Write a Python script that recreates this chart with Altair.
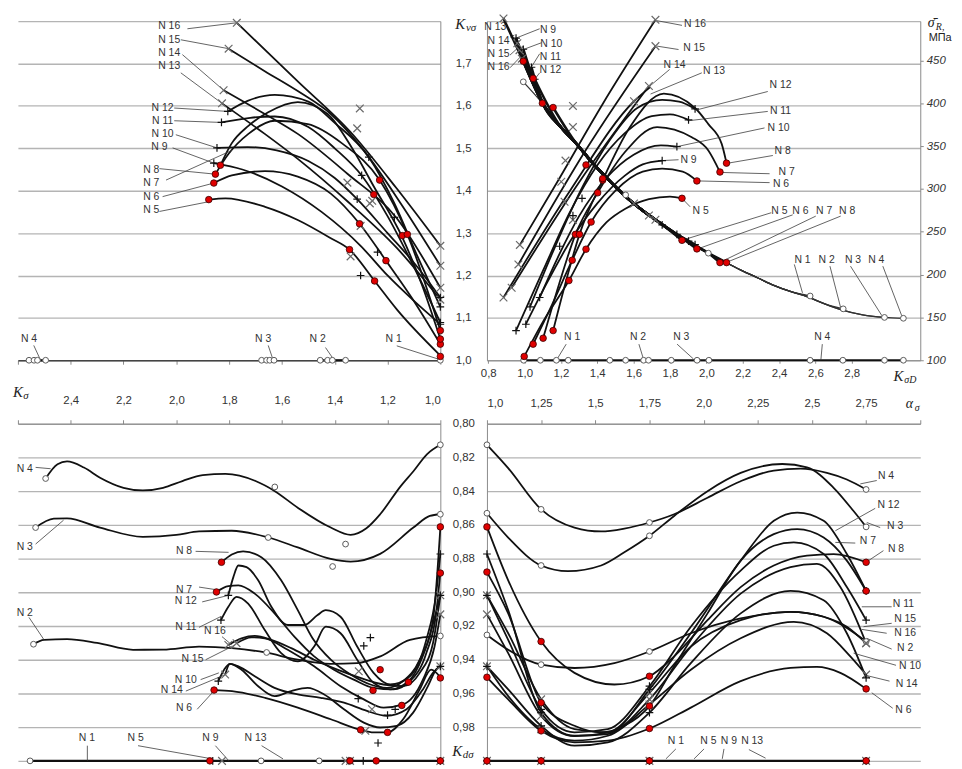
import altair as alt
import pandas as pd

SANS = "Liberation Sans"
SERIF = "Liberation Serif"
INK = "#111111"
TXT = "#333333"
GRID = "#b4b4b4"
AXC = "#8a8a8a"

# ======================= TOP-LEFT : K_vσ vs K_σ =======================
TL_N5 = [(1.877, 1.379), (1.814, 1.382), (1.664, 1.362), (1.540, 1.331), (1.415, 1.288), (1.344, 1.261), (1.249, 1.187), (1.165, 1.120), (1.0, 1.011)]
TL_N6 = [(1.858, 1.418), (1.790, 1.436), (1.664, 1.446), (1.540, 1.433), (1.415, 1.393), (1.306, 1.322), (1.206, 1.235), (1.109, 1.148), (1.0, 1.038)]
TL_N7 = [(1.833, 1.460), (1.791, 1.511), (1.727, 1.553), (1.652, 1.585), (1.540, 1.609), (1.427, 1.581), (1.334, 1.500), (1.252, 1.410), (1.144, 1.290), (1.071, 1.180), (1.0, 1.050)]
TL_N8 = [(1.852, 1.439), (1.802, 1.487), (1.727, 1.534), (1.627, 1.565), (1.502, 1.557), (1.371, 1.511), (1.230, 1.425), (1.125, 1.297), (1.0, 1.070)]
TL_N9 = [(1.858, 1.465), (1.750, 1.450), (1.600, 1.410), (1.450, 1.350), (1.302, 1.270), (1.200, 1.200), (1.100, 1.140), (1.0, 1.085)]
TL_N10 = [(1.846, 1.501), (1.730, 1.503), (1.620, 1.495), (1.500, 1.470), (1.400, 1.430), (1.315, 1.380), (1.200, 1.300), (1.100, 1.230), (1.0, 1.148)]
TL_N11 = [(1.829, 1.561), (1.720, 1.572), (1.627, 1.575), (1.500, 1.550), (1.400, 1.500), (1.298, 1.436), (1.200, 1.340), (1.100, 1.220), (1.0, 1.089)]
TL_N12 = [(1.805, 1.587), (1.730, 1.612), (1.627, 1.626), (1.500, 1.610), (1.400, 1.560), (1.271, 1.479), (1.174, 1.370), (1.090, 1.250), (1.0, 1.126)]
TL_N13 = [(1.827, 1.606), (1.665, 1.534), (1.540, 1.475), (1.352, 1.375), (1.165, 1.265), (1.0, 1.143)]
TL_N14 = [(1.821, 1.637), (1.665, 1.581), (1.540, 1.534), (1.352, 1.440), (1.165, 1.335), (1.0, 1.171)]
TL_N15 = [(1.802, 1.735), (1.665, 1.682), (1.540, 1.635), (1.415, 1.581), (1.290, 1.495), (1.150, 1.370), (1.0, 1.223)]
TL_N16 = [(1.771, 1.796), (1.540, 1.658), (1.341, 1.539), (1.165, 1.405), (1.0, 1.270)]
TL_BASE_N4 = [(2.558, 1.0), (2.495, 1.0)]
TL_BASE_N3 = [(1.677, 1.0), (1.630, 1.0)]
TL_BASE_N2 = [(1.455, 1.0), (1.359, 1.0)]

TL_RED = [(1.877, 1.379), (1.858, 1.418), (1.833, 1.460), (1.852, 1.439),
          (1.344, 1.261), (1.249, 1.187), (1.306, 1.322), (1.206, 1.235), (1.252, 1.391), (1.144, 1.294), (1.230, 1.425), (1.125, 1.297),
          (1.0, 1.009), (1.0, 1.038), (1.0, 1.050), (1.0, 1.070)]
TL_PLUS = [(1.858, 1.465), (1.846, 1.501), (1.829, 1.561), (1.805, 1.587),
           (1.271, 1.479), (1.298, 1.436), (1.315, 1.380), (1.174, 1.337), (1.238, 1.255), (1.302, 1.200),
           (1.0, 1.085), (1.0, 1.089), (1.0, 1.126), (1.0, 1.148)]
TL_CROSS = [(1.827, 1.606), (1.821, 1.637), (1.802, 1.735), (1.771, 1.796),
            (1.305, 1.594), (1.315, 1.547), (1.352, 1.419), (1.267, 1.370), (1.258, 1.376), (1.302, 1.317), (1.340, 1.245),
            (1.0, 1.143), (1.0, 1.171), (1.0, 1.223), (1.0, 1.270)]
TL_OPEN = [(2.558, 1.0), (2.539, 1.0), (2.526, 1.0), (2.495, 1.0), (1.677, 1.0), (1.658, 1.0), (1.646, 1.0), (1.630, 1.0),
           (1.455, 1.0), (1.427, 1.0), (1.409, 1.0), (1.359, 1.0), (1.0, 1.0)]
# label text, text x, text y, leader x1, y1, x2, y2
TL_LABELS = [
    ("N 16", 2.027, 1.788, 1.958, 1.782, 1.772, 1.796),
    ("N 15", 2.027, 1.756, 1.983, 1.756, 1.802, 1.735),
    ("N 14", 2.027, 1.725, 1.977, 1.721, 1.821, 1.637),
    ("N 13", 2.027, 1.694, 1.983, 1.678, 1.827, 1.606),
    ("N 12", 2.052, 1.596, 2.008, 1.595, 1.805, 1.587),
    ("N 11", 2.052, 1.565, 2.008, 1.565, 1.829, 1.561),
    ("N 10", 2.052, 1.534, 2.002, 1.532, 1.846, 1.501),
    ("N 9", 2.064, 1.503, 2.014, 1.501, 1.858, 1.465),
    ("N 8", 2.095, 1.448, 2.064, 1.452, 1.852, 1.439),
    ("N 7", 2.095, 1.417, 2.039, 1.425, 1.790, 1.495),
    ("N 6", 2.095, 1.386, 2.052, 1.386, 1.858, 1.418),
    ("N 5", 2.095, 1.354, 2.064, 1.351, 1.877, 1.374),
    ("N 4", 2.558, 1.050, 2.540, 1.035, 2.514, 1.0),
    ("N 3", 1.671, 1.050, 1.652, 1.035, 1.633, 1.0),
    ("N 2", 1.465, 1.050, 1.435, 1.030, 1.402, 1.0),
    ("N 1", 1.177, 1.050, 1.165, 1.034, 1.009, 1.003),
]

# ======================= TOP-RIGHT : K_vσ and σR vs K_σD =======================
TR_N5 = [(0.998, 1.009), (1.10, 1.09), (1.244, 1.188), (1.338, 1.262), (1.45, 1.325), (1.557, 1.358), (1.684, 1.380), (1.80, 1.386), (1.866, 1.382)]
TR_N6 = [(1.047, 1.038), (1.15, 1.13), (1.262, 1.236), (1.366, 1.326), (1.50, 1.40), (1.65, 1.445), (1.757, 1.452), (1.87, 1.445), (1.948, 1.423)]
TR_N7 = [(1.102, 1.052), (1.19, 1.18), (1.280, 1.297), (1.402, 1.395), (1.55, 1.49), (1.729, 1.55), (1.92, 1.526), (2.011, 1.495), (2.075, 1.444)]
TR_N8 = [(1.157, 1.070), (1.23, 1.19), (1.302, 1.297), (1.43, 1.425), (1.58, 1.55), (1.766, 1.629), (1.938, 1.595), (2.011, 1.557), (2.084, 1.511), (2.111, 1.465)]
TR_N9 = [(1.007, 1.085), (1.12, 1.18), (1.25, 1.28), (1.40, 1.37), (1.55, 1.435), (1.65, 1.462), (1.757, 1.471)]
TR_N10 = [(1.083, 1.148), (1.18, 1.24), (1.30, 1.34), (1.45, 1.43), (1.60, 1.485), (1.75, 1.507), (1.838, 1.504)]
TR_N11 = [(0.953, 1.07), (1.10, 1.21), (1.25, 1.35), (1.40, 1.46), (1.55, 1.535), (1.70, 1.576), (1.80, 1.58), (1.902, 1.567)]
TR_N12 = [(1.03, 1.126), (1.17, 1.27), (1.32, 1.41), (1.47, 1.52), (1.62, 1.595), (1.757, 1.614), (1.85, 1.61), (1.938, 1.593)]
TR_N13 = [(0.884, 1.148), (1.25, 1.40), (1.602, 1.611), (1.693, 1.645)]
TR_N14 = [(0.929, 1.171), (1.30, 1.42), (1.684, 1.647)]
TR_N15 = [(0.966, 1.226), (1.343, 1.50), (1.720, 1.741)]
TR_N16 = [(0.974, 1.272), (1.175, 1.417), (1.429, 1.604), (1.720, 1.803)]
TR_BASE = [(0.995, 1.0), (3.084, 1.0)]
TR_RED = [(0.998, 1.009), (1.047, 1.038), (1.102, 1.052), (1.157, 1.070),
          (1.244, 1.188), (1.262, 1.236), (1.280, 1.297), (1.302, 1.297), (1.338, 1.262), (1.366, 1.326), (1.402, 1.395), (1.43, 1.425),
          (1.866, 1.382), (1.948, 1.423), (2.075, 1.444), (2.111, 1.465)]
TR_PLUS = [(1.007, 1.085), (1.083, 1.148), (0.953, 1.07), (1.03, 1.126),
           (1.316, 1.382), (1.266, 1.341), (1.193, 1.269),
           (1.757, 1.471), (1.838, 1.504), (1.902, 1.567), (1.938, 1.593)]
TR_CROSS = [(0.884, 1.148), (0.929, 1.171), (0.966, 1.226), (0.974, 1.272),
            (1.266, 1.600), (1.266, 1.550), (1.225, 1.471), (1.202, 1.421), (1.22, 1.374), (1.266, 1.331),
            (1.602, 1.611), (1.684, 1.647), (1.720, 1.741), (1.720, 1.803)]
TR_BASE_KD = [0.995, 1.087, 1.175, 1.240, 1.469, 1.556, 1.655, 1.682, 1.807, 1.949, 2.014, 2.571, 2.751, 2.980, 3.084]

# σR bundle (K_σD, σR in MPa) and each curve's start / end on it
SR_BUNDLE_KD = [0.884, 0.993, 1.102, 1.20, 1.284, 1.375, 1.465, 1.556, 1.648, 1.74, 1.829, 1.92, 2.011, 2.10, 2.193,
                2.284, 2.375, 2.466, 2.557, 2.648, 2.739, 2.86, 2.980, 3.084]
SR_BUNDLE_SR = [499, 449, 399, 372, 353, 330, 310, 291, 275, 261, 248, 236, 225, 215, 205,
                196, 187, 180, 174, 166, 159, 153, 150, 149]
SR_RUNS = [("N1", 0.993, 425, 2.571, 175), ("N2", 1.10, 399, 2.753, 160), ("N3", 1.20, 372, 2.980, 150), ("N4", 1.284, 353, 3.084, 149),
           ("N5", 1.157, 395, 1.866, 240), ("N6", 1.098, 400, 1.948, 230), ("N7", 1.047, 429, 2.075, 214), ("N8", 0.993, 449, 2.111, 214),
           ("N9", 0.953, 476, 1.757, 258), ("N10", 0.993, 463, 1.838, 247), ("N11", 1.038, 442, 1.902, 239), ("N12", 1.056, 428, 1.938, 235),
           ("N13", 0.884, 499, 1.602, 283), ("N14", 0.953, 476, 1.684, 269), ("N15", 0.966, 465, 1.720, 264), ("N16", 0.980, 455, 1.720, 264)]
SR_RED = [(0.993, 449), (1.047, 429), (1.098, 400), (1.157, 395), (1.338, 328), (1.43, 312),
          (1.866, 240), (1.948, 230), (2.075, 214), (2.111, 214)]
SR_PLUS = [(0.953, 476), (0.993, 463), (1.038, 442), (1.056, 428), (1.757, 258), (1.838, 247), (1.902, 239), (1.938, 235)]
SR_CROSS = [(0.884, 499), (0.960, 470), (0.972, 462), (0.985, 452), (1.602, 283), (1.684, 269), (1.720, 264)]
SR_OPEN = [(0.993, 425), (1.556, 293), (2.011, 225), (2.571, 175), (2.753, 160), (2.980, 150), (3.084, 149)]

TR_LABELS = [
    ("N 16", 1.938, 1.792, 1.866, 1.790, 1.729, 1.801),
    ("N 15", 1.933, 1.737, 1.847, 1.733, 1.729, 1.741),
    ("N 14", 1.825, 1.696, 1.798, 1.686, 1.684, 1.645),
    ("N 13", 2.042, 1.682, 1.975, 1.678, 1.693, 1.628),
    ("N 12", 2.408, 1.649, 2.338, 1.634, 1.942, 1.590),
    ("N 11", 2.408, 1.587, 2.338, 1.587, 1.902, 1.565),
    ("N 10", 2.397, 1.548, 2.320, 1.548, 1.839, 1.504),
    ("N 9", 1.902, 1.473, 1.847, 1.473, 1.757, 1.471),
    ("N 8", 2.420, 1.493, 2.366, 1.483, 2.120, 1.465),
    ("N 7", 2.442, 1.443, 2.348, 1.440, 2.084, 1.443),
    ("N 6", 2.411, 1.416, 2.348, 1.419, 1.956, 1.423),
    ("N 5", 1.969, 1.351, 1.911, 1.362, 1.875, 1.378),
    ("N 5", 2.402, 1.351, 2.357, 1.348, 1.866, 1.283),
    ("N 6", 2.517, 1.351, 2.475, 1.343, 1.948, 1.262),
    ("N 7", 2.648, 1.351, 2.602, 1.340, 2.075, 1.231),
    ("N 8", 2.775, 1.351, 2.739, 1.340, 2.111, 1.231),
    ("N 1", 2.529, 1.237, 2.484, 1.226, 2.529, 1.159),
    ("N 2", 2.662, 1.237, 2.680, 1.222, 2.739, 1.124),
    ("N 3", 2.807, 1.237, 2.793, 1.222, 2.966, 1.105),
    ("N 4", 2.935, 1.237, 2.971, 1.222, 3.075, 1.105),
    ("N 13", 0.839, 1.785, 0.839, 1.785, 0.839, 1.785),
    ("N 14", 0.857, 1.754, 0.920, 1.762, 0.944, 1.767),
    ("N 15", 0.857, 1.723, 0.920, 1.720, 0.966, 1.738),
    ("N 16", 0.857, 1.692, 0.920, 1.690, 0.980, 1.717),
    ("N 9", 1.129, 1.780, 1.083, 1.782, 0.953, 1.760),
    ("N 10", 1.147, 1.747, 1.093, 1.749, 0.993, 1.733),
    ("N 11", 1.142, 1.716, 1.083, 1.723, 1.038, 1.692),
    ("N 12", 1.142, 1.685, 1.083, 1.678, 1.056, 1.663),
    ("N 1", 1.262, 1.054, 1.229, 1.038, 1.175, 1.0),
    ("N 2", 1.624, 1.054, 1.629, 1.038, 1.656, 1.0),
    ("N 3", 1.862, 1.054, 1.839, 1.038, 1.929, 1.003),
    ("N 4", 2.638, 1.054, 2.638, 1.038, 2.630, 1.0),
]

# ======================= BOTTOM-LEFT : K_dσ vs K_σ =======================
BL_N2 = [(2.541, 0.9308), (2.501, 0.9282), (2.414, 0.9278), (2.30, 0.930), (2.164, 0.9341), (2.05, 0.934), (1.914, 0.9322), (1.789, 0.9331),
         (1.664, 0.9357), (1.540, 0.940), (1.415, 0.9424), (1.315, 0.942), (1.227, 0.938), (1.115, 0.9282), (1.0, 0.9259)]
BL_N3 = [(2.533, 0.8616), (2.464, 0.8563), (2.414, 0.8561), (2.289, 0.8616), (2.127, 0.8671), (2.0, 0.866), (1.914, 0.8639), (1.790, 0.8635),
         (1.652, 0.8675), (1.540, 0.8734), (1.415, 0.8802), (1.340, 0.8818), (1.228, 0.8772), (1.102, 0.8616), (1.040, 0.8547), (1.0, 0.8537)]
BL_N4 = [(2.495, 0.8325), (2.45, 0.824), (2.414, 0.8224), (2.35, 0.826), (2.289, 0.832), (2.20, 0.838), (2.127, 0.8396), (2.05, 0.838),
         (1.977, 0.834), (1.90, 0.8305), (1.814, 0.8298), (1.70, 0.834), (1.627, 0.840), (1.540, 0.8498), (1.415, 0.8616), (1.340, 0.8659),
         (1.28, 0.862), (1.228, 0.8537), (1.15, 0.837), (1.102, 0.8282), (1.05, 0.818), (1.0, 0.8125)]
BL_N6 = [(1.857, 0.958), (1.789, 0.9586), (1.664, 0.9626), (1.540, 0.9684), (1.415, 0.9753), (1.302, 0.9816), (1.253, 0.9831),
         (1.200, 0.9831), (1.141, 0.9753), (1.078, 0.9576), (1.035, 0.9459), (1.0, 0.9504)]
BL_N7 = [(1.848, 0.8998), (1.803, 0.8963), (1.765, 0.8959), (1.703, 0.9008), (1.628, 0.9125), (1.553, 0.9263), (1.478, 0.938), (1.403, 0.9459),
         (1.328, 0.9518), (1.253, 0.9567), (1.178, 0.9576), (1.115, 0.9527), (1.053, 0.936), (1.016, 0.9125), (1.0, 0.888)]
BL_N8 = [(1.829, 0.8822), (1.790, 0.8776), (1.747, 0.8757), (1.678, 0.8792), (1.603, 0.8929), (1.540, 0.9106), (1.484, 0.9273), (1.415, 0.940),
         (1.340, 0.9488), (1.265, 0.9547), (1.203, 0.9567), (1.141, 0.9527), (1.078, 0.940), (1.028, 0.9165), (1.0, 0.8616)]
BL_N10 = [(1.841, 0.9527), (1.819, 0.9459), (1.797, 0.9424), (1.753, 0.9459), (1.690, 0.9557), (1.628, 0.9616), (1.565, 0.9586), (1.503, 0.9567),
          (1.440, 0.9606), (1.365, 0.9694), (1.290, 0.9773), (1.228, 0.9802), (1.165, 0.9792), (1.103, 0.9714), (1.047, 0.9557), (1.016, 0.9459), (1.0, 0.9439)]
BL_N11 = [(1.831, 0.9165), (1.803, 0.9086), (1.772, 0.9027), (1.728, 0.9067), (1.665, 0.9224), (1.603, 0.9361), (1.540, 0.941), (1.478, 0.9322),
          (1.434, 0.9204), (1.378, 0.9243), (1.315, 0.940), (1.253, 0.9537), (1.190, 0.9576), (1.115, 0.9518), (1.053, 0.9322), (1.0, 0.9018)]
BL_N12 = [(1.803, 0.9018), (1.784, 0.891), (1.765, 0.8841), (1.734, 0.8851), (1.690, 0.8929), (1.640, 0.9086), (1.578, 0.9194), (1.515, 0.9194),
          (1.465, 0.9135), (1.434, 0.9106), (1.378, 0.9145), (1.315, 0.9322), (1.253, 0.9478), (1.190, 0.9547), (1.115, 0.9498), (1.053, 0.9282),
          (1.016, 0.9008), (1.0, 0.8773)]
BL_N14 = [(1.815, 0.9488), (1.797, 0.9424), (1.765, 0.9439), (1.703, 0.9498), (1.628, 0.9567), (1.540, 0.9606), (1.453, 0.9626), (1.365, 0.9655),
          (1.278, 0.9704), (1.203, 0.9733), (1.128, 0.9694), (1.066, 0.9576), (1.028, 0.9478), (1.0, 0.9439)]
BL_N15 = [(1.772, 0.9302), (1.715, 0.9267), (1.665, 0.9273), (1.578, 0.9341), (1.478, 0.9439), (1.378, 0.9557), (1.290, 0.9635), (1.215, 0.9684),
          (1.141, 0.9665), (1.066, 0.9518), (1.022, 0.9322), (1.0, 0.9131)]
BL_N16 = [(1.803, 0.9312), (1.753, 0.9273), (1.703, 0.9259), (1.640, 0.9282), (1.565, 0.9331), (1.478, 0.940), (1.390, 0.9459), (1.303, 0.9508),
          (1.215, 0.9547), (1.141, 0.9557), (1.078, 0.9478), (1.028, 0.9302), (1.0, 0.9018)]
BL_BASE = [(2.554, 1.0), (1.0, 1.0)]
BL_RED = [(1.829, 0.8822), (1.848, 0.8998), (1.857, 0.958), (1.228, 0.9459), (1.255, 0.9582), (1.146, 0.9671), (1.121, 0.9533),
          (1.302, 0.9816), (1.200, 0.9831), (1.0, 0.8612), (1.0, 0.8886), (1.0, 0.9508),
          (1.873, 1.0), (1.342, 1.0), (1.243, 1.0), (1.0, 1.0)]
BL_PLUS = [(1.803, 0.9018), (1.831, 0.9165), (1.841, 0.9527), (1.265, 0.9269), (1.290, 0.9318), (1.311, 0.9631), (1.171, 0.9694),
           (1.200, 0.9729), (1.236, 0.9894), (1.0, 0.8773), (1.0, 0.9018), (1.0, 0.9439), (1.862, 1.0), (1.292, 1.0), (1.0, 1.0)]
BL_CROSS = [(1.803, 0.9312), (1.772, 0.9302), (1.815, 0.9488), (1.309, 0.9469), (1.259, 0.9694), (1.284, 0.9822),
            (1.0, 0.9018), (1.0, 0.9131), (1.0, 0.9439), (1.827, 1.0), (1.359, 1.0), (1.342, 1.0), (1.0, 1.0)]
BL_OPEN = [(2.495, 0.8325), (1.627, 0.8375), (1.359, 0.8714), (1.0, 0.8125), (2.533, 0.8616), (1.652, 0.8675), (1.408, 0.8847),
           (1.0, 0.8537), (2.541, 0.9308), (1.658, 0.9357), (1.0, 0.9259), (2.554, 1.0), (1.679, 1.0), (1.459, 1.0)]
BL_LABELS = [
    ("N 4", 2.574, 0.8267, 2.533, 0.8259, 2.476, 0.8267),
    ("N 3", 2.574, 0.8733, 2.533, 0.8714, 2.427, 0.8572),
    ("N 2", 2.574, 0.9125, 2.558, 0.9149, 2.501, 0.9282),
    ("N 8", 1.971, 0.8753, 1.927, 0.8757, 1.802, 0.8763),
    ("N 7", 1.971, 0.8984, 1.914, 0.8969, 1.852, 0.8984),
    ("N 12", 1.964, 0.9051, 1.902, 0.9057, 1.802, 0.9018),
    ("N 11", 1.964, 0.9208, 1.914, 0.9208, 1.833, 0.9145),
    ("N 16", 1.854, 0.9228, 1.827, 0.9263, 1.790, 0.9312),
    ("N 15", 1.939, 0.9396, 1.889, 0.9400, 1.777, 0.9312),
    ("N 10", 1.964, 0.9518, 1.908, 0.9518, 1.839, 0.9478),
    ("N 14", 2.017, 0.9580, 1.964, 0.9586, 1.814, 0.9488),
    ("N 6", 1.971, 0.9688, 1.921, 0.9694, 1.858, 0.9586),
    ("N 1", 2.339, 0.9867, 2.337, 0.9910, 2.337, 0.9998),
    ("N 5", 2.154, 0.9867, 2.145, 0.9910, 1.865, 0.9988),
    ("N 9", 1.871, 0.9867, 1.852, 0.9910, 1.802, 0.9998),
    ("N 13", 1.700, 0.9867, 1.677, 0.9910, 1.596, 0.9988),
]

# ======================= BOTTOM-RIGHT : K_dσ vs α_σ =======================
BR_N2 = [(1.0, 0.9253), (1.098, 0.9341), (1.25, 0.9429), (1.404, 0.9449), (1.588, 0.942), (1.75, 0.9351), (1.941, 0.9243), (2.171, 0.9155),
         (2.401, 0.9116), (2.554, 0.9145), (2.75, 0.9292)]
BR_N3 = [(1.0, 0.8531), (1.098, 0.8675), (1.25, 0.8841), (1.374, 0.8875), (1.527, 0.8841), (1.634, 0.8763), (1.75, 0.8665), (1.864, 0.8547),
         (2.018, 0.840), (2.171, 0.8292), (2.363, 0.8239), (2.477, 0.8259), (2.60, 0.838), (2.692, 0.8518), (2.75, 0.8612)]
BR_N4 = [(1.0, 0.8125), (1.098, 0.8263), (1.25, 0.8508), (1.404, 0.8616), (1.527, 0.8639), (1.634, 0.8622), (1.75, 0.8586), (1.864, 0.8537),
         (2.018, 0.8439), (2.171, 0.8341), (2.324, 0.8278), (2.447, 0.8267), (2.569, 0.8292), (2.661, 0.8331), (2.75, 0.8390)]
BR_N6 = [(1.0, 0.9504), (1.098, 0.9635), (1.25, 0.9822), (1.404, 0.989), (1.558, 0.988), (1.75, 0.9808), (1.941, 0.9684), (2.171, 0.9527),
         (2.401, 0.9449), (2.523, 0.9443), (2.631, 0.9478), (2.75, 0.9573)]
BR_N7 = [(1.0, 0.888), (1.098, 0.9125), (1.25, 0.9655), (1.404, 0.9792), (1.527, 0.9831), (1.634, 0.9792), (1.75, 0.9675), (1.864, 0.9439),
         (2.018, 0.9125), (2.171, 0.8812), (2.324, 0.8655), (2.432, 0.8625), (2.554, 0.8675), (2.661, 0.8812), (2.75, 0.8992)]
BR_N8 = [(1.0, 0.8612), (1.098, 0.8929), (1.25, 0.9292), (1.404, 0.9478), (1.588, 0.9547), (1.75, 0.9498), (1.864, 0.938), (2.018, 0.9165),
         (2.171, 0.8969), (2.324, 0.8841), (2.477, 0.8782), (2.60, 0.8773), (2.75, 0.8822)]
BR_N10 = [(1.0, 0.9439), (1.098, 0.9576), (1.25, 0.9792), (1.404, 0.991), (1.558, 0.989), (1.75, 0.9714), (1.941, 0.942), (2.171, 0.9125),
          (2.401, 0.8992), (2.554, 0.9047), (2.661, 0.9243), (2.75, 0.9508)]
BR_N11 = [(1.0, 0.9018), (1.098, 0.9282), (1.25, 0.9694), (1.404, 0.9831), (1.558, 0.9812), (1.75, 0.9557), (1.941, 0.9204), (2.171, 0.8871),
          (2.324, 0.8724), (2.416, 0.8704), (2.554, 0.8773), (2.661, 0.8969), (2.75, 0.9165)]
BR_N12 = [(1.0, 0.8773), (1.098, 0.9106), (1.25, 0.9714), (1.404, 0.9851), (1.558, 0.9841), (1.75, 0.9576), (1.941, 0.9243), (2.171, 0.8812),
          (2.324, 0.8576), (2.432, 0.8527), (2.554, 0.8576), (2.661, 0.8773), (2.75, 0.8992)]
BR_N14 = [(1.0, 0.9439), (1.098, 0.9616), (1.25, 0.9812), (1.404, 0.988), (1.558, 0.9851), (1.75, 0.9665), (1.941, 0.9459), (2.171, 0.9273),
          (2.416, 0.9175), (2.569, 0.9243), (2.677, 0.938), (2.75, 0.9488)]
BR_N15 = [(1.0, 0.9131), (1.098, 0.9361), (1.25, 0.9733), (1.404, 0.9853), (1.558, 0.9833), (1.75, 0.9596), (1.941, 0.9322), (2.171, 0.9165),
          (2.401, 0.9116), (2.554, 0.9145), (2.661, 0.9204), (2.75, 0.9302)]
BR_N16 = [(1.0, 0.9018), (1.098, 0.9243), (1.25, 0.9635), (1.404, 0.9812), (1.558, 0.9831), (1.75, 0.9635), (1.941, 0.9322), (2.171, 0.9008),
          (2.401, 0.8851), (2.523, 0.8831), (2.631, 0.8969), (2.75, 0.9302)]
BR_BASE = [(1.0, 1.0), (2.75, 1.0)]
BR_MARK_AT = [1.0, 1.25, 1.75, 2.75]
BR_LABELS = [
    ("N 4", 2.842, 0.8312, 2.799, 0.8337, 2.723, 0.8357),
    ("N 12", 2.853, 0.8482, 2.792, 0.8502, 2.608, 0.8635),
    ("N 3", 2.884, 0.8606, 2.815, 0.8616, 2.753, 0.8586),
    ("N 7", 2.758, 0.8698, 2.700, 0.8708, 2.608, 0.8704),
    ("N 8", 2.888, 0.8743, 2.830, 0.8753, 2.761, 0.8812),
    ("N 11", 2.922, 0.9071, 2.868, 0.9086, 2.730, 0.9086),
    ("N 15", 2.930, 0.9161, 2.868, 0.9184, 2.738, 0.9204),
    ("N 16", 2.930, 0.9239, 2.845, 0.9243, 2.730, 0.9220),
    ("N 2", 2.930, 0.9331, 2.868, 0.9337, 2.753, 0.9273),
    ("N 10", 2.953, 0.9439, 2.888, 0.9433, 2.692, 0.9361),
    ("N 14", 2.937, 0.9543, 2.858, 0.9527, 2.753, 0.9494),
    ("N 6", 2.922, 0.9700, 2.873, 0.9688, 2.776, 0.9596),
    ("N 1", 1.872, 0.9880, 1.872, 0.9929, 1.826, 0.9988),
    ("N 5", 2.022, 0.9880, 2.002, 0.9929, 1.956, 0.9988),
    ("N 9", 2.117, 0.9880, 2.094, 0.9929, 2.086, 0.9988),
    ("N 13", 2.224, 0.9880, 2.209, 0.9933, 2.286, 0.9984),
]

# axis tick values
KS_TICKS = [1.0, 1.2, 1.4, 1.6, 1.8, 2.0, 2.2, 2.4, 2.6]
KV_TICKS = [1.0, 1.1, 1.2, 1.3, 1.4, 1.5, 1.6, 1.7, 1.8]
KSD_TICKS = [0.8, 1.0, 1.2, 1.4, 1.6, 1.8, 2.0, 2.2, 2.4, 2.6, 2.8]
SR_TICKS = [100, 150, 200, 250, 300, 350, 400, 450]
KD_TICKS = [0.80, 0.82, 0.84, 0.86, 0.88, 0.90, 0.92, 0.94, 0.96, 0.98, 1.00]
AS_TICKS = [1.0, 1.25, 1.5, 1.75, 2.0, 2.25, 2.5, 2.75, 3.0]

PLUS_PATH = "M-1,0L1,0M0,-1L0,1"
CROSS_PATH = "M-1,-1L1,1M-1,1L1,-1"


def comma(fmt):
    return f"replace(format(datum.value, '{fmt}'), '.', ',')"


def xy_frame(curves):
    rows = []
    for name, pts in curves:
        for i, (a, b) in enumerate(pts):
            rows.append({"s": name, "x": a, "y": b, "o": i})
    return pd.DataFrame(rows)


def pt_frame(pts):
    return pd.DataFrame(list(pts), columns=["x", "y"])


def xenc(scale, axis):
    return lambda f: alt.X(f"{f}:Q", scale=scale, axis=axis)


def yenc(scale, axis):
    return lambda f: alt.Y(f"{f}:Q", scale=scale, axis=axis)


def build(X, Y, curves=(), thin=(), base=(), red=(), plus=(), cross=(), hollow=(), labels=(), texts=(), lw=1.8):
    out = []
    if thin:
        out.append(alt.Chart(xy_frame(thin)).mark_line(interpolate="monotone", color="#333333", strokeWidth=1.3)
                   .encode(x=X("x"), y=Y("y"), detail="s:N", order="o:Q"))
    if base:
        out.append(alt.Chart(xy_frame(base)).mark_line(color=INK, strokeWidth=2.2)
                   .encode(x=X("x"), y=Y("y"), detail="s:N", order="o:Q"))
    if curves:
        out.append(alt.Chart(xy_frame(curves)).mark_line(interpolate="monotone", color=INK, strokeWidth=lw)
                   .encode(x=X("x"), y=Y("y"), detail="s:N", order="o:Q"))
    if labels:
        ldf = pd.DataFrame(list(labels), columns=["t", "tx", "ty", "x1", "y1", "x2", "y2"])
        out.append(alt.Chart(ldf).mark_rule(color="#3c3c3c", strokeWidth=0.8)
                   .encode(x=X("x1"), y=Y("y1"), x2=alt.X2("x2"), y2=alt.Y2("y2")))
    if hollow:
        out.append(alt.Chart(pt_frame(hollow)).mark_point(shape="circle", filled=True, color="white", stroke="#5a5a5a",
                                                          strokeWidth=1.0, size=34, opacity=1)
                   .encode(x=X("x"), y=Y("y")))
    if cross:
        out.append(alt.Chart(pt_frame(cross)).mark_point(shape=CROSS_PATH, filled=False, color="#6a6a6a",
                                                         strokeWidth=1.2, size=60, opacity=1)
                   .encode(x=X("x"), y=Y("y")))
    if plus:
        out.append(alt.Chart(pt_frame(plus)).mark_point(shape=PLUS_PATH, filled=False, color="#111111",
                                                        strokeWidth=1.2, size=60, opacity=1)
                   .encode(x=X("x"), y=Y("y")))
    if red:
        out.append(alt.Chart(pt_frame(red)).mark_point(shape="circle", filled=True, color="#e00000", stroke="#3a0000",
                                                       strokeWidth=0.8, size=44, opacity=1)
                   .encode(x=X("x"), y=Y("y")))
    if labels:
        out.append(alt.Chart(ldf).mark_text(font=SANS, fontSize=10.5, color=TXT)
                   .encode(x=X("tx"), y=Y("ty"), text="t:N"))
    for (tx, ty, t, dx, dy, size, font, style) in texts:
        tdf = pd.DataFrame([{"x": tx, "y": ty, "t": t}])
        out.append(alt.Chart(tdf).mark_text(font=font, fontSize=size, fontStyle=style, color="#222222",
                                            dx=dx, dy=dy, clip=False)
                   .encode(x=X("x"), y=Y("y"), text="t:N"))
    return out


# ---------------- scales & axes ----------------
S_KS = alt.Scale(domain=[1.0, 2.6], reverse=True, nice=False, zero=False)
S_KV = alt.Scale(domain=[1.0, 1.8], nice=False, zero=False)
S_KSD = alt.Scale(domain=[0.793, 3.177], nice=False, zero=False)
S_SR = alt.Scale(domain=[100, 495.84], nice=False, zero=False)
S_KD = alt.Scale(domain=[0.80, 1.00], reverse=True, nice=False, zero=False)
S_AS = alt.Scale(domain=[1.0, 3.0], nice=False, zero=False)

A_TL_X = alt.Axis(orient="bottom", values=KS_TICKS, labels=False, ticks=True, tickSize=4, tickColor=AXC,
                  domainColor="#444444", domainWidth=1.5, grid=False, title=None)
A_TL_Y = alt.Axis(orient="right", values=KV_TICKS, labelExpr="datum.value > 1.75 ? '' : " + comma(".1f"),
                  labelAlign="left", labelPadding=15, ticks=False, domainColor=AXC, grid=True, title=None)
A_TR_X = alt.Axis(orient="bottom", values=KSD_TICKS, labelExpr=comma(".1f"), tickSize=3, labelPadding=4,
                  domainColor=AXC, tickColor=AXC, grid=False, title=None)
A_TR_Y = alt.Axis(orient="left", values=KV_TICKS, labels=False, ticks=False, domainColor=AXC, grid=True, title=None)
A_TR_Y2 = alt.Axis(orient="right", values=SR_TICKS, labelFontStyle="italic", tickSize=3, labelPadding=3,
                   domainColor=AXC, tickColor=AXC, grid=False, title=None)
A_BL_X = alt.Axis(orient="top", values=KS_TICKS, labelExpr="datum.value > 2.5 ? '' : " + comma(".1f"),
                  tickSize=4, labelPadding=14, domainColor=AXC, tickColor=AXC, grid=False, title=None)
A_BL_Y = alt.Axis(orient="right", values=KD_TICKS, labelExpr="datum.value > 0.99 ? '' : " + comma(".2f"),
                  labelAlign="left", labelPadding=12, ticks=False, domainColor=AXC, grid=True, title=None)
A_BR_X = alt.Axis(orient="top", values=AS_TICKS,
                  labelExpr="datum.value > 2.9 ? '' : (abs(datum.value * 2 - round(datum.value * 2)) < 0.001 ? "
                            + comma(".1f") + " : " + comma(".2f") + ")",
                  tickSize=4, labelPadding=11, domainColor=AXC, tickColor=AXC, grid=False, title=None)
A_BR_Y = alt.Axis(orient="left", values=KD_TICKS, labels=False, ticks=False, domainColor=AXC, grid=True, title=None)

# ---------------- panels ----------------
TL = alt.layer(*build(
    xenc(S_KS, A_TL_X), yenc(S_KV, A_TL_Y),
    curves=[("N5", TL_N5), ("N6", TL_N6), ("N7", TL_N7), ("N8", TL_N8), ("N9", TL_N9), ("N10", TL_N10),
            ("N11", TL_N11), ("N12", TL_N12), ("N13", TL_N13), ("N14", TL_N14), ("N15", TL_N15), ("N16", TL_N16)],
    base=[("N4", TL_BASE_N4), ("N3", TL_BASE_N3), ("N2", TL_BASE_N2)],
    red=TL_RED, plus=TL_PLUS, cross=TL_CROSS, hollow=TL_OPEN, labels=TL_LABELS,
)).properties(width=426, height=342)

sr_curves, sr_thin = [], []
for name, k0, s0, k1, s1 in SR_RUNS:
    pts = [(k0, s0)] + [(k, s) for k, s in zip(SR_BUNDLE_KD, SR_BUNDLE_SR) if k0 + 0.05 < k < k1 - 0.05] + [(k1, s1)]
    (sr_thin if name in ("N1", "N2", "N3", "N4") else sr_curves).append((name, pts))

tr_titles = [
    (0.793, 1.8, "K", -27, 3, 15, SERIF, "italic"),
    (0.793, 1.8, "vσ", -16, 7, 11, SERIF, "italic"),
    (3.177, 1.0, "K", -22, 16, 15, SERIF, "italic"),
    (3.177, 1.0, "σD", -10, 20, 10, SERIF, "italic"),
    (3.177, 1.8, "σ\u0304", 11, 2, 14, SERIF, "italic"),
    (3.177, 1.8, "R,", 20, 6, 10, SERIF, "italic"),
    (3.177, 1.8, "МПа", 20, 17, 11, SANS, "normal"),
]
tr_kv = alt.layer(*build(
    xenc(S_KSD, A_TR_X), yenc(S_KV, A_TR_Y),
    curves=[("N5", TR_N5), ("N6", TR_N6), ("N7", TR_N7), ("N8", TR_N8), ("N9", TR_N9), ("N10", TR_N10),
            ("N11", TR_N11), ("N12", TR_N12), ("N13", TR_N13), ("N14", TR_N14), ("N15", TR_N15), ("N16", TR_N16)],
    base=[("base", TR_BASE)],
    red=TR_RED, plus=TR_PLUS, cross=TR_CROSS, hollow=[(k, 1.0) for k in TR_BASE_KD],
    labels=TR_LABELS, texts=tr_titles,
))
tr_sr = alt.layer(*build(
    xenc(S_KSD, A_TR_X), yenc(S_SR, A_TR_Y2),
    curves=sr_curves, thin=sr_thin, red=SR_RED, plus=SR_PLUS, cross=SR_CROSS, hollow=SR_OPEN, lw=2.6,
))
TR = alt.layer(tr_kv, tr_sr).resolve_scale(y="independent").properties(width=437, height=342)

bl_titles = [
    (2.6, 0.80, "K", 0, -32, 15, SERIF, "italic"),
    (2.6, 0.80, "σ", 8, -28, 11, SERIF, "italic"),
    (1.0, 1.00, "K", 17, -10, 15, SERIF, "italic"),
    (1.0, 1.00, "dσ", 28, -6, 11, SERIF, "italic"),
]
BL = alt.layer(*build(
    xenc(S_KS, A_BL_X), yenc(S_KD, A_BL_Y),
    curves=[("N2", BL_N2), ("N3", BL_N3), ("N4", BL_N4), ("N6", BL_N6), ("N7", BL_N7), ("N8", BL_N8),
            ("N10", BL_N10), ("N11", BL_N11), ("N12", BL_N12), ("N14", BL_N14), ("N15", BL_N15), ("N16", BL_N16)],
    base=[("base", BL_BASE)],
    red=BL_RED, plus=BL_PLUS, cross=BL_CROSS, hollow=BL_OPEN, labels=BL_LABELS, texts=bl_titles,
)).properties(width=426, height=340)

br_series = [("N2", BR_N2, "o"), ("N3", BR_N3, "o"), ("N4", BR_N4, "o"), ("N6", BR_N6, "r"), ("N7", BR_N7, "r"),
             ("N8", BR_N8, "r"), ("N10", BR_N10, "p"), ("N11", BR_N11, "p"), ("N12", BR_N12, "p"),
             ("N14", BR_N14, "c"), ("N15", BR_N15, "c"), ("N16", BR_N16, "c")]
br_marks = {"o": [], "r": [], "p": [], "c": []}
for name, pts, kind in br_series:
    br_marks[kind] += [(a, b) for a, b in pts if a in BR_MARK_AT]
base_marks = [(a, 1.0) for a in BR_MARK_AT]
br_titles = [
    (3.0, 0.80, "α", -11, -20, 14, SERIF, "italic"),
    (3.0, 0.80, "σ", -3, -16, 10, SERIF, "italic"),
]
BR = alt.layer(*build(
    xenc(S_AS, A_BR_X), yenc(S_KD, A_BR_Y),
    curves=[(n, p) for n, p, _ in br_series], base=[("base", BR_BASE)],
    red=br_marks["r"] + base_marks, plus=br_marks["p"] + base_marks, cross=br_marks["c"] + base_marks,
    hollow=br_marks["o"], labels=BR_LABELS, texts=br_titles,
)).properties(width=437, height=340)

chart = alt.concat(TL, TR, BL, BR, columns=2, spacing={"row": 64, "column": 47}, bounds="flush").properties(
    padding={"left": 4, "top": 0, "right": 2, "bottom": 2}
).configure_view(stroke=None).configure_axis(
    labelFont=SANS, labelFontSize=11.5, labelColor=TXT, gridColor=GRID, gridWidth=1.4
)

chart.save("out.html", embed_options={"renderer": "svg", "actions": False})
